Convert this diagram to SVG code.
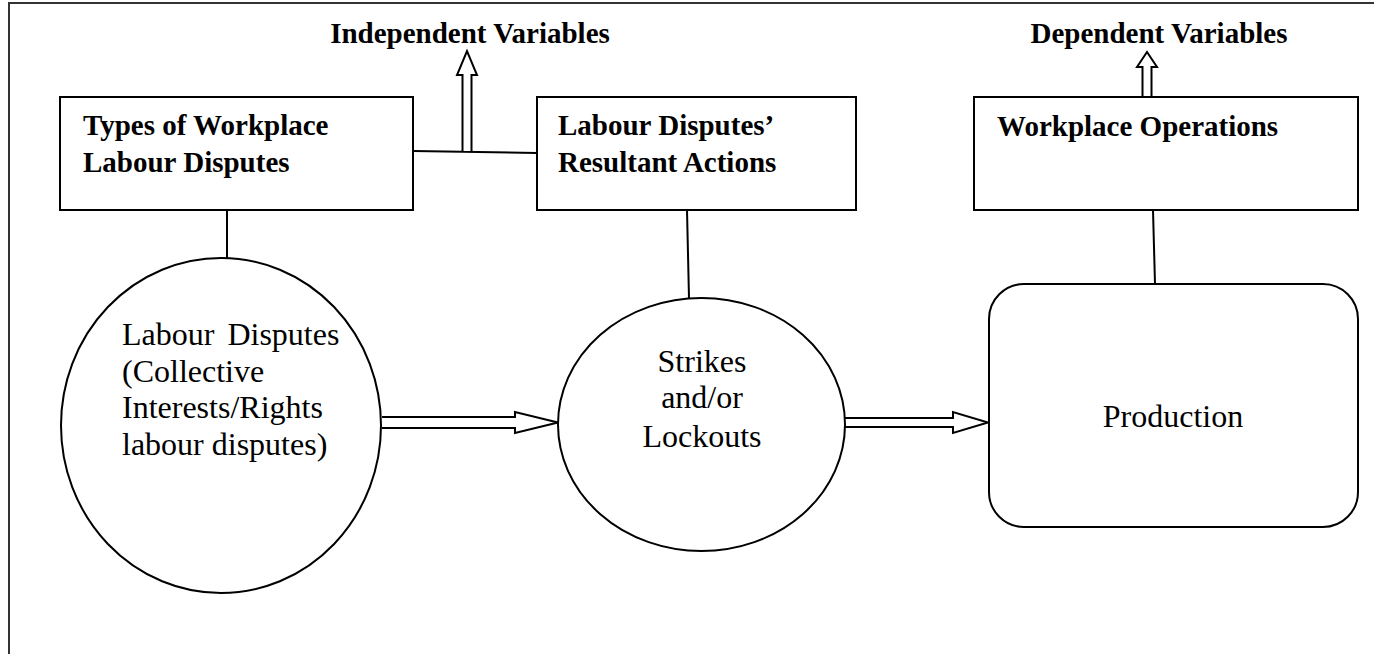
<svg xmlns="http://www.w3.org/2000/svg" width="1374" height="654" viewBox="0 0 1374 654">
<style>
.box{fill:#fff;stroke:#000;stroke-width:2}
.shape{fill:#fff;stroke:#000;stroke-width:2}
.conn{fill:none;stroke:#000;stroke-width:2}
.arr{fill:#fff;stroke:#000;stroke-width:2;stroke-linejoin:miter}
.frame{fill:none;stroke:#333;stroke-width:2}
.hd{font-family:"Liberation Serif","Times New Roman",serif;font-weight:bold;font-size:29px;fill:#000}
.tx{font-family:"Liberation Serif","Times New Roman",serif;font-size:32px;fill:#000}
</style>
<rect width="1374" height="654" fill="#fff"/>
<g id="frame">
<path class="frame" d="M9,654 L9,3 L1374,3"/>
</g>
<g id="connectors">
<line class="conn" x1="413" y1="151" x2="537" y2="153"/>
<line class="conn" x1="227" y1="210" x2="227" y2="258"/>
<line class="conn" x1="687" y1="210" x2="689" y2="298"/>
<line class="conn" x1="1153" y1="210" x2="1155" y2="284"/>
<path class="arr" d="M462.5,151 L462.5,75 L457,75 L467,51 L477,75 L471.5,75 L471.5,151"/>
<path class="arr" d="M1142.5,97 L1142.5,67 L1137,67 L1147,52 L1157,67 L1151.5,67 L1151.5,97"/>
<path class="arr" d="M382,417 L515,417 L515,412 L558,422.5 L515,433 L515,428 L382,428"/>
<path class="arr" d="M845,418 L953,418 L953,412 L988,422.5 L953,433 L953,427 L845,427"/>
</g>
<g id="label-independent">
<text class="hd" x="470" y="43" text-anchor="middle">Independent Variables</text>
</g>
<g id="label-dependent">
<text class="hd" x="1159" y="43" text-anchor="middle">Dependent Variables</text>
</g>
<g id="box-types">
<rect class="box" x="60" y="97" width="353" height="113"/>
<text class="hd" x="83" y="135">Types of Workplace</text>
<text class="hd" x="83" y="172">Labour Disputes</text>
</g>
<g id="box-resultant">
<rect class="box" x="537" y="97" width="319" height="113"/>
<text class="hd" x="558" y="135">Labour Disputes’</text>
<text class="hd" x="558" y="172">Resultant Actions</text>
</g>
<g id="box-operations">
<rect class="box" x="974" y="97" width="384" height="113"/>
<text class="hd" x="997" y="136">Workplace Operations</text>
</g>
<g id="node-disputes">
<ellipse class="shape" cx="221" cy="425.5" rx="160" ry="167.5"/>
<text class="tx" x="122" y="345" word-spacing="5">Labour Disputes</text>
<text class="tx" x="122" y="382">(Collective</text>
<text class="tx" x="122" y="418">Interests/Rights</text>
<text class="tx" x="122" y="455">labour disputes)</text>
</g>
<g id="node-strikes">
<ellipse class="shape" cx="701.5" cy="424.5" rx="143.5" ry="126.5"/>
<text class="tx" x="702" y="372" text-anchor="middle">Strikes</text>
<text class="tx" x="702" y="408" text-anchor="middle">and/or</text>
<text class="tx" x="702" y="447" text-anchor="middle">Lockouts</text>
</g>
<g id="node-production">
<rect class="shape" x="989" y="284" width="369" height="243" rx="35" ry="35"/>
<text class="tx" x="1173" y="427" text-anchor="middle">Production</text>
</g>
</svg>
